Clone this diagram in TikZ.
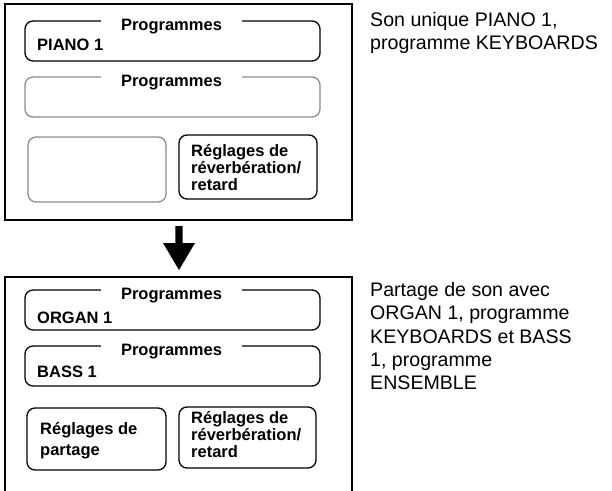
\documentclass[tikz,border=0pt]{standalone}
\usepackage{fontspec}
\setmainfont{Liberation Sans}
\definecolor{greyline}{HTML}{8C8C8C}
\begin{document}
\begin{tikzpicture}[x=1pt,y=-1pt,
  outerbox/.style={draw=black,line width=1.5pt},
  slot/.style={draw=black,line width=1.3pt,rounded corners=8pt},
  greyslot/.style={draw=greyline,line width=1.3pt,rounded corners=8pt},
  slottitle/.style={fill=white,inner xsep=20pt,inner ysep=1pt,font=\bfseries\fontsize{16.5}{17}\selectfont,anchor=base},
  slottext/.style={inner sep=0pt,font=\bfseries\fontsize{16.5}{17}\selectfont,anchor=base west},
  multitext/.style={inner sep=0pt,align=left,anchor=north west},
  caption/.style={inner sep=0pt,align=left,anchor=north west,font=\fontsize{19.6}{23.3}\selectfont}]
\useasboundingbox (0,0) rectangle (612,490);
% top panel
\draw[outerbox] (5,4) rectangle (352,220);
\draw[slot] (25,21) rectangle (320,61);
\node[slottitle] (tA) at (171.5,30) {Programmes};
\node[slottext] (piano) at (37,50) {PIANO 1};
\draw[greyslot] (25,77) rectangle (320,117);
\node[slottitle] (tB) at (171.5,86) {Programmes};
\draw[greyslot] (28,137) rectangle (166,202);
\draw[slot] (179,135) rectangle (317,199);
\node[multitext,font=\bfseries\fontsize{16.5}{17}\selectfont] (revA) at (191,144) {Réglages de\\réverbération/\\retard};
\node[caption] (capA) at (370,12) {Son unique PIANO 1,\\programme KEYBOARDS};
% arrow
\coordinate (arrowtop) at (179,226);
\fill[black] (175.3,226) -- (182.7,226) -- (182.7,243) -- (195,243) -- (179,270) -- (163,243) -- (175.3,243) -- cycle;
% bottom panel
\draw[outerbox] (5,491) -- (5,277) -- (352,277) -- (352,491);
\draw[slot] (25,290) rectangle (320,330);
\node[slottitle] (tE) at (171.5,299) {Programmes};
\node[slottext] (organ) at (37,323) {ORGAN 1};
\draw[slot] (25,346) rectangle (320,386);
\node[slottitle] (tF) at (171.5,355) {Programmes};
\node[slottext] (bass) at (37,377) {BASS 1};
\draw[slot] (27,408) rectangle (166,470);
\node[multitext,font=\bfseries\fontsize{16.5}{21}\selectfont] (split) at (40,422) {Réglages de\\partage};
\draw[slot] (179,407) rectangle (316,468);
\node[multitext,font=\bfseries\fontsize{16.5}{17}\selectfont] (revB) at (191,411) {Réglages de\\réverbération/\\retard};
\node[caption] (capB) at (370,282) {Partage de son avec\\ORGAN 1, programme\\KEYBOARDS et BASS\\1, programme\\ENSEMBLE};
\end{tikzpicture}
\end{document}
